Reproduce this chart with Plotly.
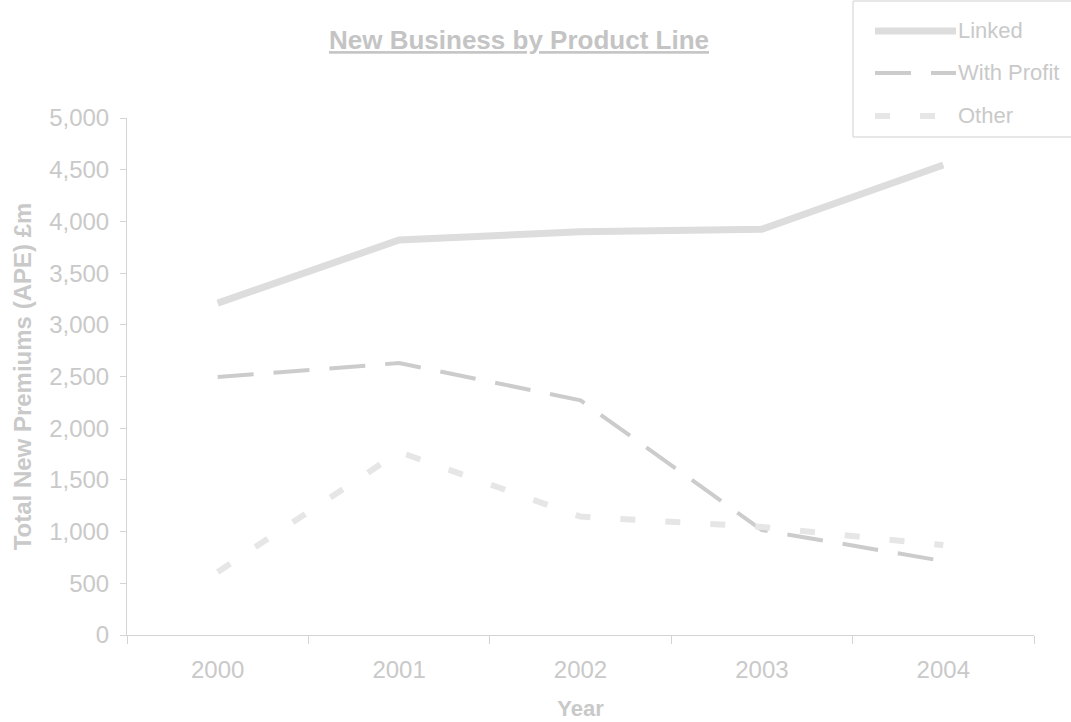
import plotly.graph_objects as go

years = ["2000", "2001", "2002", "2003", "2004"]
linked = [3210, 3820, 3900, 3925, 4545]
with_profit = [2495, 2630, 2270, 1015, 715]
other = [610, 1770, 1145, 1045, 870]
y_ticks = [0, 500, 1000, 1500, 2000, 2500, 3000, 3500, 4000, 4500, 5000]

W, H = 1071, 722
L, R, T, B = 127, 37, 118, 87
PW, PH = W - L - R, H - T - B

def px(x):
    return (x - L) / PW

def py(y):
    return (H - B - y) / PH

FONT = "Liberation Sans, Arial, sans-serif"
TXT = "#c9c9c9"
AX = "#d4d4d4"

series = [
    ("Linked", linked, "#dddddd", 7, "solid"),
    ("With Profit", with_profit, "#cccccc", 4, "36px,20px"),
    ("Other", other, "#e6e6e6", 6, "15px,30px"),
]

fig = go.Figure()
for name, vals, col, w, dash in series:
    fig.add_trace(go.Scatter(x=years, y=vals, mode="lines", name=name,
                             line=dict(color=col, width=w, dash=dash),
                             showlegend=False))

fig.update_layout(
    width=W, height=H,
    margin=dict(l=L, r=R, t=T, b=B, autoexpand=False),
    paper_bgcolor="white", plot_bgcolor="white",
    font=dict(family=FONT, color=TXT, size=20),
    title=dict(text="<b><u>New Business by Product Line</u></b>",
               x=519 / W, xanchor="center", y=1 - 40 / H, yanchor="middle",
               font=dict(size=26, color="#c4c4c4")),
    xaxis=dict(type="category", range=[-0.5, 4.5], showline=True, linecolor=AX,
               linewidth=1, ticks="outside", tickson="boundaries", ticklen=8,
               tickcolor=AX, showgrid=False, zeroline=False, automargin=False,
               ticklabelstandoff=13,
               tickfont=dict(size=24, color=TXT),
               title=dict(text="<b>Year</b>", font=dict(size=22, color=TXT), standoff=18)),
    yaxis=dict(range=[0, 5000], tickvals=y_ticks, tickformat=",d", showline=True,
               linecolor=AX, linewidth=1, ticks="outside", ticklen=6, tickcolor=AX,
               showgrid=False, zeroline=False, ticklabelstandoff=6, automargin=False,
               tickfont=dict(size=24, color=TXT),
               title=dict(text="<b>Total New Premiums (APE) £m</b>",
                          font=dict(size=24, color=TXT), standoff=10)),
)

# manual legend box
shapes = [dict(type="rect", xref="paper", yref="paper",
               x0=px(853), x1=px(1080), y0=py(137), y1=py(1),
               line=dict(color="#d0d0d0", width=1), fillcolor="rgba(0,0,0,0)")]
legend_rows = [31, 73, 116]
annotations = []
for (name, vals, col, w, dash), yy in zip(series, legend_rows):
    shapes.append(dict(type="line", xref="paper", yref="paper",
                       x0=px(875), x1=px(956), y0=py(yy), y1=py(yy),
                       line=dict(color=col, width=w, dash=dash)))
    annotations.append(dict(text=name, xref="paper", yref="paper",
                            x=px(956), y=py(yy), xanchor="left", yanchor="middle",
                            showarrow=False, font=dict(size=22, color=TXT)))
fig.update_layout(shapes=shapes, annotations=annotations)

fig.write_html("out.html")
